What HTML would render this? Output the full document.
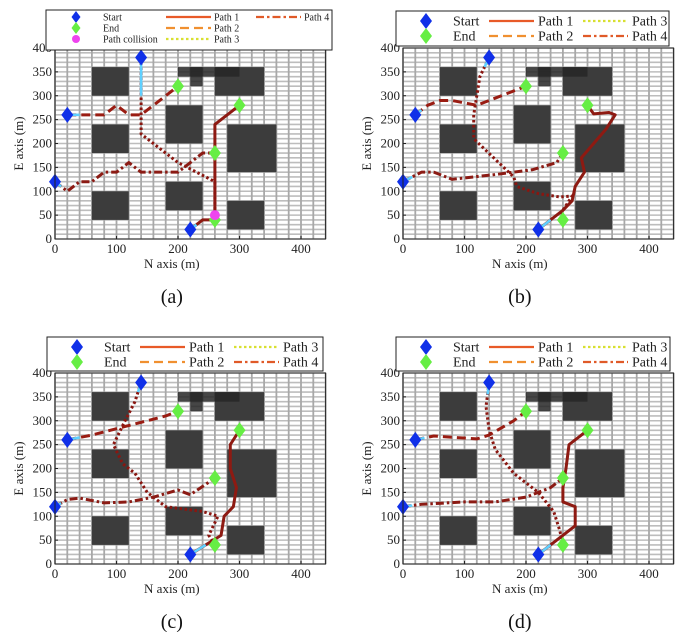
<!DOCTYPE html>
<html><head><meta charset="utf-8"><style>
body{margin:0;background:#fff;width:700px;height:632px;overflow:hidden}
svg{display:block;font-family:"Liberation Serif",serif}
</style></head><body>
<svg id="fig" width="700" height="632" viewBox="0 0 700 632" xmlns="http://www.w3.org/2000/svg"></svg>
<script>
const xTicks=[0,100,200,300,400];
const yTicks=[0,50,100,150,200,250,300,350,400];
const obstacles=[[60,300,120,360],[60,180,120,240],[60,40,120,100],[180,200,240,280],[180,60,240,120],[280,140,360,240],[280,20,340,80],[260,300,340,360],[200,340,300,360],[220,320,240,360]];
const starts=[[0,120],[20,260],[140,380],[220,20]];
const ends=[[200,320],[300,280],[260,180],[260,40]];
const pathsA=[
[[220,20],[240,40],[260,40],[260,240],[300,280]],
[[20,260],[60,260],[80,260],[100,280],[120,260],[140,260],[180,300],[200,320]],
[[140,380],[140,220],[200,160],[260,120],[260,40]],
[[0,120],[20,100],[40,120],[60,120],[80,140],[100,140],[120,160],[140,140],[200,140],[240,180],[260,180]]];
const pathsB=[
[[220,20],[260,60],[275,80],[280,110],[295,140],[290,170],[310,200],[330,230],[345,260],[335,265],[310,262],[300,280]],
[[20,260],[40,280],[60,290],[80,290],[120,280],[160,300],[200,320]],
[[140,380],[125,340],[120,300],[115,260],[115,210],[180,130],[185,110],[220,95],[255,88],[275,90],[270,80],[255,50],[260,40]],
[[0,120],[30,140],[50,140],[80,125],[150,135],[210,145],[250,160],[260,180]]];
const pathsC=[
[[220,20],[270,60],[275,100],[290,120],[295,160],[285,200],[285,250],[300,280]],
[[20,260],[60,270],[120,290],[180,310],[200,320]],
[[140,380],[130,340],[110,290],[95,250],[110,210],[130,190],[150,150],[180,120],[240,110],[265,100],[250,60],[260,40]],
[[0,120],[20,135],[40,138],[80,128],[120,130],[160,140],[200,155],[220,145],[260,180]]];
const pathsD=[
[[220,20],[260,60],[280,80],[280,120],[260,130],[260,160],[265,200],[270,250],[300,280]],
[[20,260],[50,268],[120,262],[140,270],[180,300],[200,320]],
[[140,380],[135,330],[140,280],[150,240],[180,190],[220,150],[245,110],[255,70],[260,40]],
[[0,120],[30,125],[100,130],[150,130],[200,140],[240,160],[260,180]]];
const collisionA=[260,50];

const NS="http://www.w3.org/2000/svg";
const svg=document.getElementById('fig');
function mk(tag,attrs,parent){const e=document.createElementNS(NS,tag);for(const k in attrs)e.setAttribute(k,attrs[k]);(parent||svg).appendChild(e);return e;}
const SX=246/400, SY=191/400;
const dashes=['none','9,5','2.5,2.5','8,3,2.5,3'];
const colors=['#8e1a12','#9a1c12','#8a1610','#8c1b14'];
const panels=[
{id:'a',ox:55,oy:239,paths:pathsA,lg:[46,10,332,50]},
{id:'b',ox:403,oy:239,paths:pathsB,lg:[396,11,669,46]},
{id:'c',ox:55,oy:564,paths:pathsC,lg:[47,337,323,371]},
{id:'d',ox:403,oy:564,paths:pathsD,lg:[396,337,670,371]}];
function diamond(g,cx,cy,col,name){const p=mk('polygon',{points:`${cx},${cy-8} ${cx+6},${cy} ${cx},${cy+8} ${cx-6},${cy}`,fill:col},g);
return p;}
panels.forEach(P=>{
 const X=v=>P.ox+v*SX, Y=v=>P.oy-v*SY;
 const g=mk('g',{});
 
 
 const L=X(0),R=X(440),T=Y(400),B=Y(0);
 const bg=mk('rect',{x:L,y:T,width:R-L,height:B-T,fill:'#fff'},g);
 
 
 for(let v=0;v<=400;v+=10){mk('line',{x1:L,x2:R,y1:Y(v),y2:Y(v),stroke:'#bdbdbd','stroke-width':1.6},g);}
 for(let v=0;v<=440;v+=20){mk('line',{x1:X(v),x2:X(v),y1:T,y2:B,stroke:'#a8a8a8','stroke-width':1.8},g);}
 obstacles.forEach((o,i)=>{const r=mk('rect',{x:X(o[0]),y:Y(o[3]),width:(o[2]-o[0])*SX,height:(o[3]-o[1])*SY,fill:i>=8?'#262626':'#3c3c3c','fill-opacity':i>=8?0.85:1},g);
  });
 P.paths.forEach((pts,i)=>{const pl=mk('polyline',{points:pts.map(p=>X(p[0])+','+Y(p[1])).join(' '),fill:'none',stroke:colors[i],'stroke-width':3,'stroke-dasharray':dashes[i],'stroke-linejoin':'round'},g);
  
  const a=pts[0],b=pts[1];
  const hl=mk('line',{x1:X(a[0]),y1:Y(a[1]),x2:X(a[0]+(b[0]-a[0])*0.5),y2:Y(a[1]+(b[1]-a[1])*0.5),stroke:'#5fd0ff','stroke-width':2.6},g);
  });
 starts.forEach(s=>diamond(g,X(s[0]),Y(s[1]),'#1030e8','start-marker'));
 ends.forEach(s=>diamond(g,X(s[0]),Y(s[1]),'#66ee44','end-marker'));
 if(P.id==='a'){const c=mk('circle',{cx:X(collisionA[0]),cy:Y(collisionA[1]),r:5,fill:'#ee44ee'},g);
  }
 mk('rect',{x:L,y:T,width:R-L,height:B-T,fill:'none',stroke:'#222','stroke-width':1},g);
 xTicks.forEach(v=>{mk('line',{x1:X(v),x2:X(v),y1:B,y2:B-3,stroke:'#222'},g);
  const t=mk('text',{x:X(v),y:B+14,'font-size':13,'text-anchor':'middle',fill:'#222'},g);t.textContent=v;
  });
 yTicks.forEach(v=>{mk('line',{x1:L,x2:L+3,y1:Y(v),y2:Y(v),stroke:'#222'},g);
  const t=mk('text',{x:L-3,y:Y(v)+4,'font-size':13,'text-anchor':'end',fill:'#222'},g);t.textContent=v;
  });
 const xt=mk('text',{x:X(190),y:B+29,'font-size':13,'text-anchor':'middle',fill:'#222'},g);xt.textContent='N axis (m)';
 
 const yt=mk('text',{x:0,y:0,'font-size':13,'text-anchor':'middle',fill:'#222',transform:`translate(${L-32},${Y(200)}) rotate(-90)`},g);yt.textContent='E axis (m)';
 
 const cap=mk('text',{x:X(190),y:B+64,'font-size':20,'text-anchor':'middle',fill:'#111'},g);cap.textContent='('+P.id+')';
 
 const [lx,ly,lx2,ly2]=P.lg;
 const lg=mk('g',{},g);
 
 mk('rect',{x:lx,y:ly,width:lx2-lx,height:ly2-ly,fill:'#fff',stroke:'#222','stroke-width':1},lg);
 const lcol=['#e85a28','#f09030','#d8e030','#e05a28'];
 if(P.id==='a'){
  const rows=[ly+7,ly+18,ly+29];
  const items=[['Start',0,0,'s'],['End',0,1,'e'],['Path collision',0,2,'c'],['Path 1',1,0,0],['Path 2',1,1,1],['Path 3',1,2,2],['Path 4',2,0,3]];
  items.forEach(it=>{const yy=rows[it[2]];
   if(it[1]===0){if(it[3]==='c')mk('circle',{cx:lx+30,cy:yy,r:4,fill:'#ee44ee'},lg);else diamond(lg,lx+30,yy,it[3]==='s'?'#1030e8':'#66ee44','legend-marker').setAttribute('transform',`translate(${lx+30},${yy}) scale(0.75) translate(${-lx-30},${-yy})`);
    const t=mk('text',{x:lx+57,y:yy+3.5,'font-size':10,fill:'#222'},lg);t.textContent=it[0];}
   else{const bx=it[1]===1?lx+120:lx+210;
    mk('line',{x1:bx,x2:bx+45,y1:yy,y2:yy,stroke:lcol[it[3]],'stroke-width':2.2,'stroke-dasharray':dashes[it[3]]},lg);
    const t=mk('text',{x:bx+48,y:yy+3.5,'font-size':10,fill:'#222'},lg);t.textContent=it[0];}
  });
 } else {
  const rows=[ly+10,ly+25];
  [['Start','s'],['End','e']].forEach((it,i)=>{diamond(lg,lx+30,rows[i],it[1]==='s'?'#1030e8':'#66ee44','legend-marker');
   const t=mk('text',{x:lx+57,y:rows[i]+4.5,'font-size':14,fill:'#222'},lg);t.textContent=it[0];});
  [['Path 1',0,0],['Path 2',1,0],['Path 3',0,1],['Path 4',1,1]].forEach((it,k)=>{const idx=k;const bx=it[2]===0?lx+93:lx+187;const yy=rows[it[1]];
   mk('line',{x1:bx,x2:bx+45,y1:yy,y2:yy,stroke:lcol[idx],'stroke-width':2.2,'stroke-dasharray':dashes[idx]},lg);
   const t=mk('text',{x:bx+49,y:yy+4.5,'font-size':14,fill:'#222'},lg);t.textContent=it[0];});
 }
});
</script>
</body></html>
